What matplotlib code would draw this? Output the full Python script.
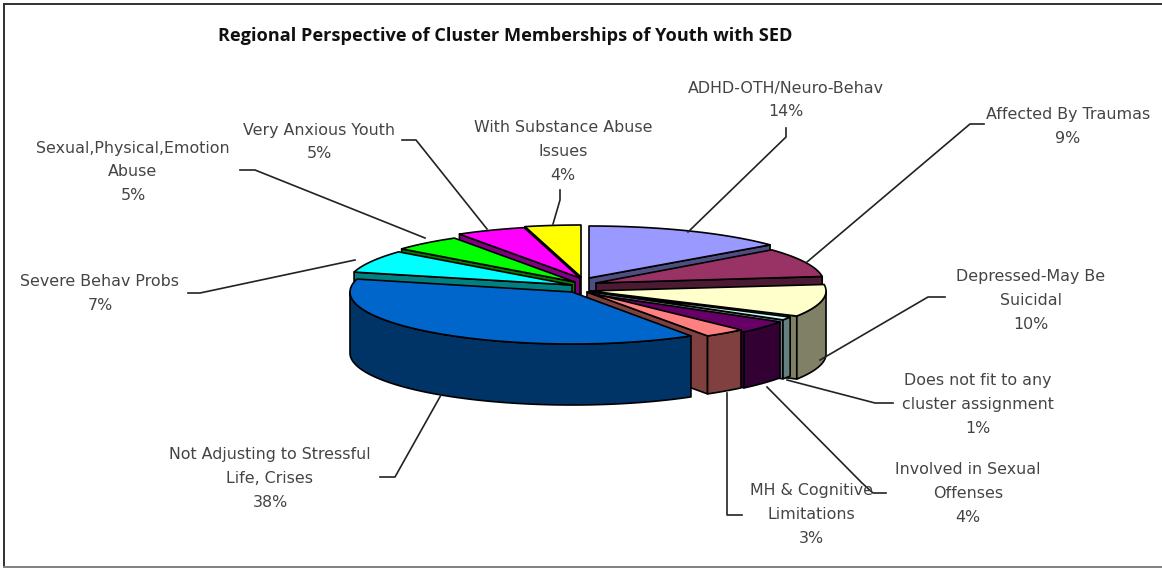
from __future__ import annotations

import matplotlib

matplotlib.use("Agg")
import matplotlib.pyplot as plt
import numpy as np
from matplotlib.colors import to_rgb
from matplotlib.patches import Polygon

TITLE = "Regional Perspective of Cluster Memberships of Youth with SED"

label_lines = [
    ["ADHD-OTH/Neuro-Behav"],
    ["Affected By Traumas"],
    ["Depressed-May Be", "Suicidal"],
    ["Does not fit to any", "cluster assignment"],
    ["Involved in Sexual", "Offenses"],
    ["MH & Cognitive", "Limitations"],
    ["Not Adjusting to Stressful", "Life, Crises"],
    ["Severe Behav Probs"],
    ["Sexual,Physical,Emotion", "Abuse"],
    ["Very Anxious Youth"],
    ["With Substance Abuse", "Issues"],
]
percents = [14, 9, 10, 1, 4, 3, 38, 7, 5, 5, 4]

top_colors = [
    "#9999FF", "#993366", "#FFFFCC", "#CCFFFF", "#660066", "#FF8080",
    "#0066CC", "#00FFFF", "#00FF00", "#FF00FF", "#FFFF00",
]

# Exploded slice layout, in pixels: apex x, apex y, horizontal radius, wall height
slice_geometry = [
    (589, 278, 235, 61), (596, 283, 228, 61), (590, 291, 236, 63), (593, 292, 225, 59),
    (590, 294, 225, 56), (587, 292, 225, 58), (572, 292, 222, 61), (572, 285, 225, 61),
    (575, 282, 225, 61), (580, 278, 225, 61), (581, 277, 225, 61),
]
RADIUS_Y = 52

# Back slices are painted first so the front ones overlap them
draw_order = [10, 9, 8, 7, 0, 1, 2, 3, 4, 5, 6]

label_centers = [
    (786, 88), (1068, 115), (1031, 277), (978, 381), (968, 470), (811, 491),
    (270, 455), (100, 282), (133, 148), (319, 130), (563, 128),
]
LINE_STEP = 23.8

leaders = [
    [(786, 128), (786, 137), (688, 232)],
    [(984, 124), (970, 124), (807, 262)],
    [(945, 297), (928, 297), (820, 360)],
    [(893, 403), (875, 403), (787, 380)],
    [(886, 493), (873, 493), (862, 483), (767, 387)],
    [(742, 515), (727, 515), (727, 393)],
    [(380, 477), (395, 477), (441, 395)],
    [(188, 293), (200, 293), (355, 260)],
    [(240, 170), (255, 170), (425, 238)],
    [(402, 140), (416, 140), (487, 229)],
    [(560, 190), (560, 200), (553, 224)],
]

TEXT_COLOR = "#444444"


def rim(cx: float, cy: float, rx: float, start: float, stop: float) -> np.ndarray:
    angles = np.radians(np.linspace(start, stop, max(2, int(abs(stop - start)) * 2)))
    return np.column_stack([cx + rx * np.cos(angles), cy - RADIUS_Y * np.sin(angles)])


def add_face(ax, points: np.ndarray, color) -> None:
    ax.add_patch(Polygon(points, closed=True, facecolor=color, edgecolor="black", lw=1.2, joinstyle="round"))


def extrude(points: np.ndarray, depth: float) -> np.ndarray:
    lowered = points[::-1] + np.array([0, depth])
    return np.vstack([points, lowered])


def draw_slice(ax, index: int, start: float, stop: float) -> None:
    cx, cy, rx, depth = slice_geometry[index]
    top = to_rgb(top_colors[index])
    side = tuple(c * 0.5 for c in top)
    apex = np.array([[cx, cy]])

    # Radial cut faces that turn toward the viewer
    if np.cos(np.radians(start)) < 0:
        add_face(ax, extrude(np.vstack([apex, rim(cx, cy, rx, start, start)[:1]]), depth), side)
    if np.cos(np.radians(stop)) > 0:
        add_face(ax, extrude(np.vstack([apex, rim(cx, cy, rx, stop, stop)[:1]]), depth), side)

    # Outer wall exists only on the front half of the ellipse
    low, high = min(start, stop), max(start, stop)
    wall_high = min(high, 0)
    wall_low = max(low, -180)
    if wall_high > wall_low:
        add_face(ax, extrude(rim(cx, cy, rx, wall_high, wall_low), depth), side)

    add_face(ax, np.vstack([apex, rim(cx, cy, rx, start, stop)]), top)


def main() -> None:
    fig = plt.figure(figsize=(11.62, 5.68), dpi=100)
    ax = fig.add_axes([0, 0, 1, 1])
    ax.set_xlim(0, 1162)
    ax.set_ylim(568, 0)
    ax.axis("off")

    # Slices run clockwise from twelve o'clock
    edges = 90 - 3.6 * np.concatenate([[0], np.cumsum(percents)])
    for index in draw_order:
        draw_slice(ax, index, edges[index], edges[index + 1])

    for lines, percent, (x, y) in zip(label_lines, percents, label_centers):
        for row, text in enumerate(lines + [f"{percent}%"]):
            ax.text(x, y + row * LINE_STEP, text, ha="center", va="center",
                    family="DejaVu Sans", fontsize=11.4, color=TEXT_COLOR)

    for path in leaders:
        xs, ys = zip(*path)
        ax.plot(xs, ys, color="#222222", lw=1.2)

    ax.text(505, 36, TITLE, ha="center", va="center", family="Open Sans",
            fontweight="bold", fontsize=13.1, color="#101010")

    # Frame: heavier on the top and left
    ax.plot([4, 4], [4, 566], color="#303030", lw=1.4, clip_on=False)
    ax.plot([4, 1162], [4, 4], color="#303030", lw=1.4, clip_on=False)
    ax.plot([4, 1162], [566.5, 566.5], color="#808080", lw=1.4, clip_on=False)

    fig.savefig("out.png", dpi=100)
    plt.close(fig)


if __name__ == "__main__":
    main()
